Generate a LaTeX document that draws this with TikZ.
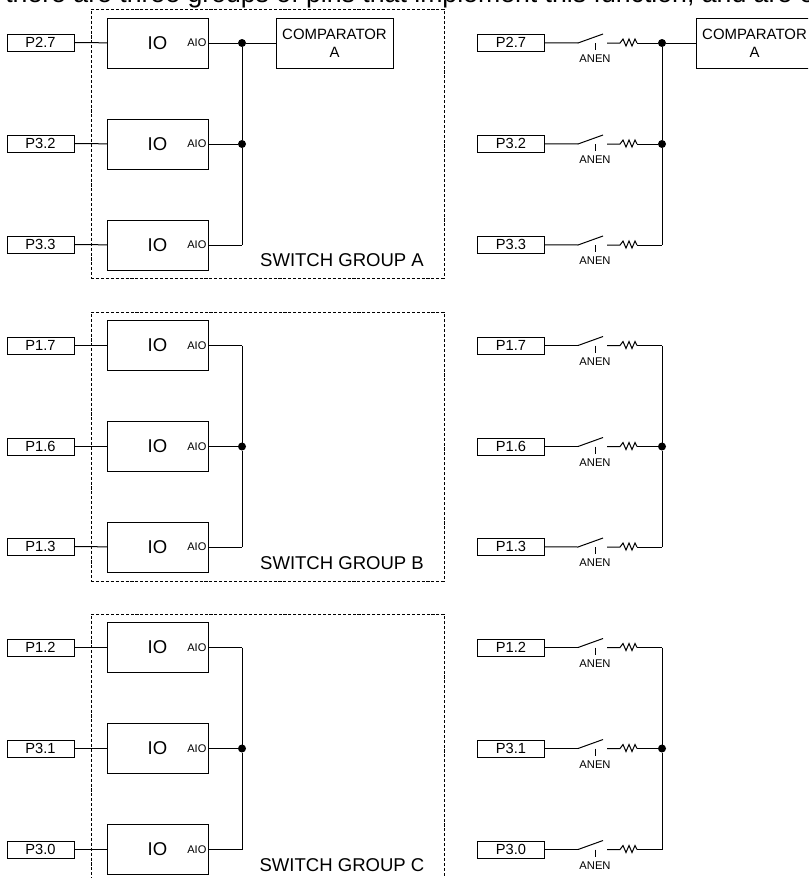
\documentclass[tikz,border=0pt]{standalone}
\usepackage{fontspec}
\setmainfont{Liberation Sans}
\tikzset{
    wire/.style={line width=0.75pt},
    pinbox/.style={draw, wire, inner sep=0pt, outer sep=0pt, minimum width=67*0.75pt, minimum height=17*0.75pt, font=\fontsize{11}{13}\selectfont},
    iobox/.style={draw, wire, inner sep=0pt, outer sep=0pt, minimum width=101*0.75pt, minimum height=50*0.75pt, font=\fontsize{13.9}{16}\selectfont},
    cmpbox/.style={draw, wire, inner sep=0pt, outer sep=0pt, minimum width=117*0.75pt, minimum height=50*0.75pt, align=center, font=\fontsize{11.2}{13.5}\selectfont},
    aiotext/.style={anchor=east, inner sep=1pt, font=\fontsize{8.3}{10}\selectfont},
    anentext/.style={inner sep=0pt, font=\fontsize{8.4}{10}\selectfont},
    dot/.style={circle, fill=black, inner sep=0pt, outer sep=0pt, minimum size=8*0.75pt},
    groupbox/.style={draw, wire, dash pattern=on 2.3pt off 1.4pt, inner sep=0pt, minimum width=353*0.75pt, minimum height=269*0.75pt},
    grouptext/.style={inner sep=0pt, font=\fontsize{13.9}{16}\selectfont},
    swres/.pic={
        \coordinate (-in) at (0,0);
        \coordinate (-out) at (59,0);
        \draw[wire] (-in) -- (25,-9);
        \draw[wire] (17,0) -- (17,7);
        \node[anentext] (-lab) at (17,16) {ANEN};
        \draw[wire] (29,0) -- (42,0) -- (45,-4) -- (48,3) -- (51,-4) -- (54,3) -- (57,-4) -- (-out);
    }
}
\begin{document}
\begin{tikzpicture}[x=0.75pt, y=-0.75pt]
    \useasboundingbox (0,0) rectangle (808,878);
    \clip (0,0) rectangle (808,878);
    \node[anchor=base west, inner sep=0pt, font=\fontsize{20}{24}\selectfont] (title) at (5,2.5) {there are three groups of pins that implement this function, and are e};

    %%%%%%%%%% Gruppi %%%%%%%%%%
    \node[groupbox] (GA) at (267.5,143.5) {};
    \node[groupbox] (GB) at (267.5,446.5) {};
    \node[groupbox] (GC) at (267.5,748.5) {};
    \node[grouptext] (TA) at (342,260) {SWITCH GROUP A};
    \node[grouptext] (TB) at (342,563) {SWITCH GROUP B};
    \node[grouptext] (TC) at (342,865) {SWITCH GROUP C};

    %%%%%%%%%% Pin sinistra %%%%%%%%%%
    \node[pinbox] (LA1) at (40.5,42.5) {P2.7};
    \node[pinbox] (LA2) at (40.5,143.5) {P3.2};
    \node[pinbox] (LA3) at (40.5,244.5) {P3.3};
    \node[pinbox] (LB1) at (40.5,345.5) {P1.7};
    \node[pinbox] (LB2) at (40.5,446.5) {P1.6};
    \node[pinbox] (LB3) at (40.5,546.5) {P1.3};
    \node[pinbox] (LC1) at (40.5,647.5) {P1.2};
    \node[pinbox] (LC2) at (40.5,748.5) {P3.1};
    \node[pinbox] (LC3) at (40.5,849.5) {P3.0};

    %%%%%%%%%% Blocchi IO %%%%%%%%%%
    \node[iobox] (IOA1) at (157.5,43) {IO};
    \node[iobox] (IOA2) at (157.5,144) {IO};
    \node[iobox] (IOA3) at (157.5,245) {IO};
    \node[iobox] (IOB1) at (157.5,345.5) {IO};
    \node[iobox] (IOB2) at (157.5,446.5) {IO};
    \node[iobox] (IOB3) at (157.5,547) {IO};
    \node[iobox] (IOC1) at (157.5,647.5) {IO};
    \node[iobox] (IOC2) at (157.5,748.5) {IO};
    \node[iobox] (IOC3) at (157.5,849.5) {IO};
    \node[aiotext] (AIOA1) at (IOA1.east) {AIO};
    \node[aiotext] (AIOA2) at (IOA2.east) {AIO};
    \node[aiotext] (AIOA3) at (IOA3.east) {AIO};
    \node[aiotext] (AIOB1) at (IOB1.east) {AIO};
    \node[aiotext] (AIOB2) at (IOB2.east) {AIO};
    \node[aiotext] (AIOB3) at (IOB3.east) {AIO};
    \node[aiotext] (AIOC1) at (IOC1.east) {AIO};
    \node[aiotext] (AIOC2) at (IOC2.east) {AIO};
    \node[aiotext] (AIOC3) at (IOC3.east) {AIO};

    %%%%%%%%%% Giunzioni sinistra %%%%%%%%%%
    \node[dot] (JA1) at (242,43) {};
    \node[dot] (JA2) at (242,144) {};
    \coordinate (JA3) at (242,245);
    \coordinate (JB1) at (242,345.5);
    \node[dot] (JB2) at (242,446.5) {};
    \coordinate (JB3) at (242,547);
    \coordinate (JC1) at (242,647.5);
    \node[dot] (JC2) at (242,748.5) {};
    \coordinate (JC3) at (242,849.5);
    \node[cmpbox] (CMPL) at (334.5,43) {COMPARATOR\\A};

    %%%%%%%%%% Fili sinistra %%%%%%%%%%
    \draw[wire] (LA1) -- (IOA1);
    \draw[wire] (LA2) -- (IOA2);
    \draw[wire] (LA3) -- (IOA3);
    \draw[wire] (LB1) -- (IOB1);
    \draw[wire] (LB2) -- (IOB2);
    \draw[wire] (LB3) -- (IOB3);
    \draw[wire] (LC1) -- (IOC1);
    \draw[wire] (LC2) -- (IOC2);
    \draw[wire] (LC3) -- (IOC3);
    \draw[wire] (IOA1) -- (JA1);
    \draw[wire] (IOA2) -- (JA2);
    \draw[wire] (IOA3) -- (JA3);
    \draw[wire] (IOB1) -- (JB1);
    \draw[wire] (IOB2) -- (JB2);
    \draw[wire] (IOB3) -- (JB3);
    \draw[wire] (IOC1) -- (JC1);
    \draw[wire] (IOC2) -- (JC2);
    \draw[wire] (IOC3) -- (JC3);
    \draw[wire] (JA1) -- (JA2);
    \draw[wire] (JA2) -- (JA3);
    \draw[wire] (JB1) -- (JB2);
    \draw[wire] (JB2) -- (JB3);
    \draw[wire] (JC1) -- (JC2);
    \draw[wire] (JC2) -- (JC3);
    \draw[wire] (JA1) -- (CMPL);

    %%%%%%%%%% Pin destra %%%%%%%%%%
    \node[pinbox] (RA1) at (511,42.5) {P2.7};
    \node[pinbox] (RA2) at (511,143.5) {P3.2};
    \node[pinbox] (RA3) at (511,244.5) {P3.3};
    \node[pinbox] (RB1) at (511,345.5) {P1.7};
    \node[pinbox] (RB2) at (511,446.5) {P1.6};
    \node[pinbox] (RB3) at (511,546.5) {P1.3};
    \node[pinbox] (RC1) at (511,647.5) {P1.2};
    \node[pinbox] (RC2) at (511,748.5) {P3.1};
    \node[pinbox] (RC3) at (511,849.5) {P3.0};

    %%%%%%%%%% Interruttori %%%%%%%%%%
    \pic (SA1) at (578,43) {swres};
    \pic (SA2) at (578,144) {swres};
    \pic (SA3) at (578,245) {swres};
    \pic (SB1) at (578,345.5) {swres};
    \pic (SB2) at (578,446.5) {swres};
    \pic (SB3) at (578,547) {swres};
    \pic (SC1) at (578,647.5) {swres};
    \pic (SC2) at (578,748.5) {swres};
    \pic (SC3) at (578,849.5) {swres};

    %%%%%%%%%% Giunzioni destra %%%%%%%%%%
    \node[dot] (KA1) at (662,43) {};
    \node[dot] (KA2) at (662,144) {};
    \coordinate (KA3) at (662,245);
    \coordinate (KB1) at (662,345.5);
    \node[dot] (KB2) at (662,446.5) {};
    \coordinate (KB3) at (662,547);
    \coordinate (KC1) at (662,647.5);
    \node[dot] (KC2) at (662,748.5) {};
    \coordinate (KC3) at (662,849.5);
    \node[cmpbox] (CMPR) at (754.5,43) {COMPARATOR\\A};

    %%%%%%%%%% Fili destra %%%%%%%%%%
    \draw[wire] (RA1) -- (SA1-in);
    \draw[wire] (RA2) -- (SA2-in);
    \draw[wire] (RA3) -- (SA3-in);
    \draw[wire] (RB1) -- (SB1-in);
    \draw[wire] (RB2) -- (SB2-in);
    \draw[wire] (RB3) -- (SB3-in);
    \draw[wire] (RC1) -- (SC1-in);
    \draw[wire] (RC2) -- (SC2-in);
    \draw[wire] (RC3) -- (SC3-in);
    \draw[wire] (SA1-out) -- (KA1);
    \draw[wire] (SA2-out) -- (KA2);
    \draw[wire] (SA3-out) -- (KA3);
    \draw[wire] (SB1-out) -- (KB1);
    \draw[wire] (SB2-out) -- (KB2);
    \draw[wire] (SB3-out) -- (KB3);
    \draw[wire] (SC1-out) -- (KC1);
    \draw[wire] (SC2-out) -- (KC2);
    \draw[wire] (SC3-out) -- (KC3);
    \draw[wire] (KA1) -- (KA2);
    \draw[wire] (KA2) -- (KA3);
    \draw[wire] (KB1) -- (KB2);
    \draw[wire] (KB2) -- (KB3);
    \draw[wire] (KC1) -- (KC2);
    \draw[wire] (KC2) -- (KC3);
    \draw[wire] (KA1) -- (CMPR);
\end{tikzpicture}
\end{document}
